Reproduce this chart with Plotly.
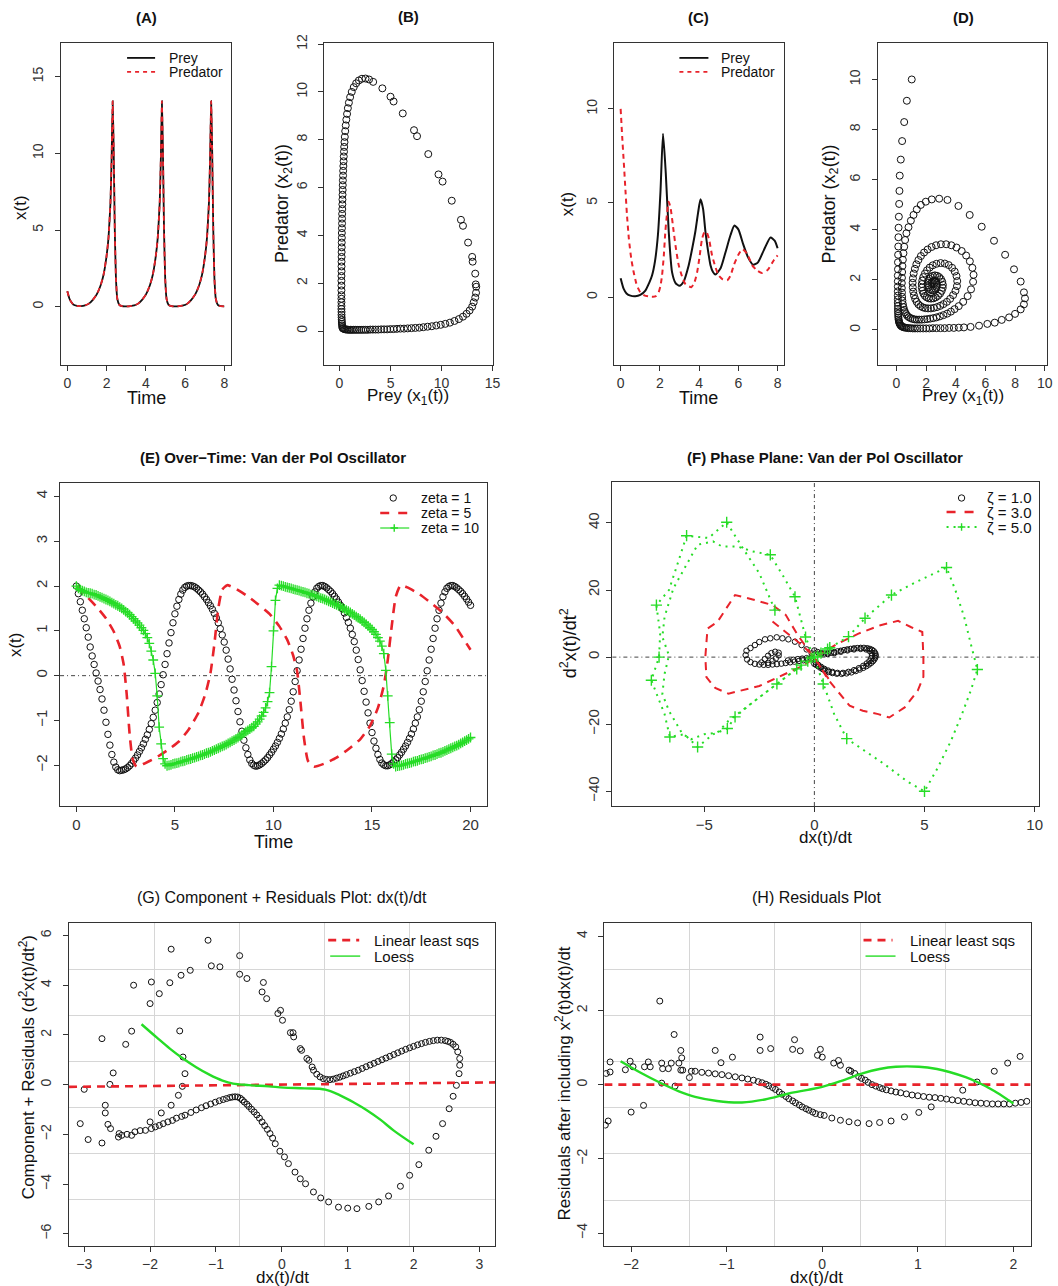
import plotly.graph_objects as go

W, H = 1058, 1286
FONT = "Liberation Sans, Arial, Helvetica, sans-serif"
BLACK = "#111111"
RED = "#e8232b"
GREEN = "#26dc26"
AXC = "#333333"

# ---------------- (A) Lotka-Volterra, over time ----------------
A_TIME = [0, 0.1, 0.2, 0.3, 0.5,
          0.7, 0.9, 1.1, 1.3, 1.5, 1.7, 1.85, 2.0, 2.1, 2.2, 2.26, 2.31, 2.36, 2.42, 2.48, 2.55, 2.65, 2.8, 3.0,
          3.21, 3.41, 3.61, 3.81, 4.01, 4.21, 4.36, 4.51, 4.61, 4.71, 4.77, 4.82, 4.87, 4.93, 4.99, 5.06, 5.16, 5.31, 5.51,
          5.72, 5.92, 6.12, 6.32, 6.52, 6.72, 6.87, 7.02, 7.12, 7.22, 7.28, 7.33, 7.38, 7.44, 7.50, 7.57, 7.67, 7.82, 8.0]
A_PREY = [1.0, 0.55, 0.3, 0.15, 0.06,
          0.04, 0.08, 0.2, 0.45, 0.8, 1.4, 2.1, 3.3, 4.5, 6.8, 9.8, 13.4, 10.5, 5.0, 1.8, 0.5, 0.12, 0.03, 0.02,
          0.04, 0.08, 0.2, 0.45, 0.8, 1.4, 2.1, 3.3, 4.5, 6.8, 9.8, 13.4, 10.5, 5.0, 1.8, 0.5, 0.12, 0.03, 0.02,
          0.04, 0.08, 0.2, 0.45, 0.8, 1.4, 2.1, 3.3, 4.5, 6.8, 9.8, 13.4, 10.5, 5.0, 1.8, 0.5, 0.12, 0.03, 0.02]
A_PREDATOR = [1.0, 0.55, 0.3, 0.15, 0.06,
              0.04, 0.08, 0.2, 0.45, 0.8, 1.4, 2.1, 3.3, 4.5, 6.8, 9.8, 13.4, 10.5, 5.0, 1.8, 0.5, 0.12, 0.03, 0.02,
              0.04, 0.08, 0.2, 0.45, 0.8, 1.4, 2.1, 3.3, 4.5, 6.8, 9.8, 13.4, 10.5, 5.0, 1.8, 0.5, 0.12, 0.03, 0.02,
              0.04, 0.08, 0.2, 0.45, 0.8, 1.4, 2.1, 3.3, 4.5, 6.8, 9.8, 13.4, 10.5, 5.0, 1.8, 0.5, 0.12, 0.03, 0.02]

# ---------------- (B) phase plane (prey, predator) ----------------
B_BOTTOM = [(0.30, 0.12), (0.38, 0.10), (0.47, 0.08), (0.57, 0.07), (0.68, 0.06), (0.80, 0.06), (0.93, 0.05),
            (1.07, 0.05), (1.22, 0.05), (1.38, 0.05), (1.55, 0.05), (1.73, 0.05), (1.92, 0.05), (2.12, 0.05),
            (2.33, 0.05), (2.55, 0.05), (2.78, 0.05), (3.02, 0.06), (3.27, 0.06), (3.53, 0.06), (3.80, 0.06),
            (4.08, 0.07), (4.37, 0.07), (4.67, 0.07), (4.98, 0.08), (5.30, 0.08), (5.63, 0.09), (5.97, 0.10),
            (6.32, 0.10), (6.68, 0.11), (7.05, 0.12), (7.43, 0.13), (7.82, 0.14), (8.22, 0.16), (8.63, 0.18),
            (9.05, 0.20), (9.48, 0.23), (9.92, 0.26), (10.37, 0.30), (10.82, 0.35), (11.27, 0.42), (11.7, 0.50),
            (12.1, 0.60), (12.45, 0.72), (12.75, 0.86), (13.0, 1.02), (13.15, 1.2)]
B_RIGHT = [(13.3, 1.4), (13.38, 1.6), (13.4, 1.85), (13.35, 1.95), (13.3, 2.4), (13.05, 2.9), (13.0, 3.1),
           (12.6, 3.7), (12.1, 4.4), (11.9, 4.65), (11.0, 5.45), (10.1, 6.25), (9.7, 6.55), (8.7, 7.4),
           (7.6, 8.15), (7.3, 8.4), (6.2, 9.1), (5.3, 9.6), (5.0, 9.8), (4.2, 10.15), (3.3, 10.42)]
B_TOP = [(2.9, 10.52), (2.55, 10.56), (2.2, 10.55), (1.9, 10.48), (1.63, 10.36), (1.4, 10.2), (1.2, 10.0),
         (1.04, 9.78), (0.92, 9.55), (0.82, 9.32), (0.74, 9.08), (0.67, 8.84), (0.61, 8.6), (0.56, 8.36), (0.52, 8.12)]
B_LEFT = [(0.49, 7.9), (0.46, 7.7), (0.44, 7.5), (0.42, 7.3), (0.40, 7.1), (0.38, 6.9), (0.36, 6.7), (0.35, 6.5),
          (0.33, 6.3), (0.32, 6.1), (0.31, 5.9), (0.30, 5.7), (0.29, 5.5), (0.28, 5.3), (0.27, 5.1), (0.26, 4.9),
          (0.25, 4.7), (0.25, 4.5), (0.24, 4.3), (0.23, 4.1), (0.23, 3.9), (0.22, 3.7), (0.22, 3.5), (0.21, 3.3),
          (0.21, 3.1), (0.20, 2.9), (0.20, 2.7), (0.20, 2.5), (0.19, 2.3), (0.19, 2.1), (0.19, 1.9), (0.19, 1.7),
          (0.19, 1.5), (0.19, 1.35), (0.19, 1.2), (0.19, 1.05), (0.19, 0.92), (0.20, 0.8), (0.20, 0.68),
          (0.21, 0.57), (0.22, 0.47), (0.23, 0.38), (0.24, 0.3), (0.26, 0.23), (0.28, 0.17)]

# ---------------- (C) damped Lotka-Volterra, over time ----------------
C_TIME_PREY = [0, 0.15, 0.3, 0.5, 0.75, 1.0, 1.26, 1.45, 1.6, 1.75, 1.9, 2.03, 2.16, 2.3, 2.45, 2.62, 2.8, 3.0,
               3.2, 3.47, 3.65, 3.81, 3.95, 4.07, 4.2, 4.32, 4.45, 4.58, 4.7, 4.83, 5.1, 5.35, 5.6, 5.8, 6.0,
               6.25, 6.5, 6.76, 7.0, 7.3, 7.64, 7.85, 8.0]
C_PREY = [1.0, 0.45, 0.2, 0.08, 0.05, 0.12, 0.35, 0.75, 1.15, 1.9, 3.3, 5.6, 8.68, 6.6, 3.5, 1.33, 0.75, 0.6,
          0.8, 1.7, 2.6, 3.5, 4.5, 5.2, 4.7, 3.5, 2.5, 1.7, 1.35, 1.2, 1.55, 2.4, 3.3, 3.8, 3.6,
          2.8, 2.1, 1.72, 1.85, 2.5, 3.17, 3.0, 2.6]
C_TIME_PRED = [0, 0.08, 0.17, 0.25, 0.32, 0.42, 0.54, 0.66, 0.78, 0.9, 1.0, 1.2, 1.43, 1.77, 1.94, 2.03, 2.11,
               2.2, 2.28, 2.37, 2.45, 2.55, 2.7, 2.83, 2.96, 3.13, 3.3, 3.6, 3.75, 3.9, 4.03, 4.15, 4.27, 4.37,
               4.5, 4.66, 4.83, 5.0, 5.2, 5.43, 5.6, 5.77, 6.0, 6.2, 6.45, 6.7, 6.95, 7.2, 7.5, 7.8, 8.0]
C_PREDATOR = [10.0, 8.5, 7.0, 5.6, 4.4, 3.1, 2.05, 1.35, 0.8, 0.45, 0.27, 0.1, 0.04, 0.04, 0.27, 0.6, 1.15,
              2.2, 3.5, 4.5, 5.07, 4.7, 3.5, 2.5, 1.7, 1.1, 0.7, 0.53, 0.75, 1.33, 2.2, 3.1, 3.45, 3.47,
              3.1, 2.22, 1.6, 1.15, 0.95, 0.9, 1.15, 1.7, 2.25, 2.55, 2.3, 1.7, 1.42, 1.28, 1.45, 1.95, 2.22]

# ---------------- (D) damped phase plane ----------------
D_PATH = [(1.03, 10.0), (0.7, 9.15), (0.52, 8.3), (0.38, 7.54), (0.29, 6.8), (0.22, 6.16), (0.2, 5.55),
          (0.18, 5.03), (0.16, 4.52), (0.14, 4.08), (0.13, 3.7), (0.12, 3.33), (0.11, 3.0), (0.1, 2.7),
          (0.1, 2.42), (0.09, 2.17), (0.09, 1.94), (0.09, 1.73), (0.09, 1.54), (0.09, 1.37), (0.09, 1.22),
          (0.09, 1.08), (0.1, 0.95), (0.1, 0.84), (0.1, 0.74), (0.11, 0.65), (0.12, 0.56), (0.13, 0.49),
          (0.14, 0.42), (0.16, 0.36), (0.18, 0.31), (0.2, 0.27), (0.23, 0.23), (0.27, 0.19), (0.31, 0.16),
          (0.36, 0.14), (0.42, 0.12), (0.5, 0.1), (0.6, 0.09), (0.7, 0.08), (0.82, 0.07), (0.95, 0.07),
          (1.1, 0.06), (1.25, 0.06), (1.42, 0.06), (1.6, 0.06), (1.8, 0.06), (2.0, 0.06), (2.22, 0.06),
          (2.45, 0.07), (2.7, 0.07), (2.97, 0.07), (3.25, 0.07), (3.55, 0.08), (3.87, 0.08), (4.2, 0.09),
          (4.55, 0.1), (5.0, 0.12), (5.57, 0.17), (6.13, 0.24), (6.63, 0.29), (7.1, 0.4), (7.6, 0.5),
          (8.0, 0.64), (8.38, 0.82), (8.6, 1.02), (8.67, 1.26), (8.6, 1.5), (8.38, 1.93), (7.93, 2.42),
          (7.33, 3.0), (6.58, 3.56), (5.75, 4.12), (4.94, 4.59), (4.18, 4.95), (3.44, 5.19), (2.88, 5.24),
          (2.38, 5.21), (1.98, 5.12), (1.64, 4.99), (1.37, 4.81), (1.15, 4.59), (0.97, 4.36), (0.81, 4.1),
          (0.67, 3.86), (0.58, 3.59), (0.52, 3.32), (0.47, 3.06), (0.43, 2.8), (0.4, 2.55), (0.38, 2.31),
          (0.37, 2.08), (0.36, 1.87), (0.36, 1.67), (0.37, 1.49), (0.38, 1.32), (0.4, 1.17), (0.43, 1.03),
          (0.47, 0.91), (0.52, 0.8), (0.58, 0.71), (0.65, 0.63), (0.73, 0.56), (0.83, 0.51), (0.95, 0.47),
          (1.08, 0.44), (1.22, 0.42), (1.37, 0.41), (1.53, 0.41), (1.7, 0.41), (1.88, 0.42), (2.07, 0.43),
          (2.27, 0.45), (2.48, 0.47), (2.7, 0.5), (2.93, 0.54), (3.17, 0.59), (3.42, 0.65), (3.67, 0.73),
          (3.92, 0.83), (4.2, 0.95), (4.5, 1.12), (4.8, 1.35), (5.03, 1.62), (5.17, 1.92), (5.2, 2.2),
          (5.12, 2.48), (4.95, 2.74), (4.7, 2.97), (4.4, 3.15), (4.05, 3.29), (3.7, 3.38), (3.35, 3.42),
          (3.0, 3.42), (2.67, 3.38), (2.37, 3.31), (2.1, 3.21), (1.86, 3.09), (1.65, 2.95), (1.48, 2.79),
          (1.34, 2.62), (1.24, 2.44), (1.16, 2.25), (1.11, 2.06), (1.09, 1.88), (1.1, 1.7), (1.13, 1.53),
          (1.18, 1.38), (1.26, 1.24), (1.36, 1.12), (1.48, 1.02), (1.62, 0.95), (1.78, 0.9), (1.95, 0.87),
          (2.13, 0.86), (2.32, 0.86), (2.52, 0.88), (2.73, 0.91), (2.95, 0.96), (3.17, 1.03), (3.4, 1.12),
          (3.62, 1.24), (3.82, 1.39), (3.98, 1.56), (4.08, 1.75), (4.1, 1.95), (4.05, 2.15), (3.93, 2.33),
          (3.75, 2.48), (3.52, 2.59), (3.26, 2.65), (2.98, 2.67), (2.7, 2.64), (2.45, 2.58), (2.24, 2.49),
          (2.06, 2.38), (1.92, 2.25), (1.81, 2.11), (1.74, 1.97), (1.71, 1.83), (1.71, 1.69), (1.75, 1.56),
          (1.82, 1.45), (1.92, 1.36), (2.04, 1.3), (2.18, 1.26), (2.33, 1.25), (2.49, 1.26), (2.65, 1.3),
          (2.8, 1.36), (2.94, 1.45), (3.05, 1.56), (3.12, 1.68), (3.13, 1.8), (3.09, 1.92), (3.0, 2.03),
          (2.88, 2.11), (2.74, 2.16), (2.59, 2.18), (2.45, 2.16), (2.32, 2.11), (2.22, 2.04), (2.15, 1.96),
          (2.12, 1.87), (2.13, 1.78), (2.17, 1.7), (2.24, 1.63), (2.33, 1.59), (2.43, 1.58), (2.53, 1.6),
          (2.62, 1.65), (2.69, 1.72), (2.72, 1.8), (2.71, 1.87), (2.66, 1.93), (2.59, 1.96), (2.51, 1.96),
          (2.43, 1.93), (2.37, 1.88)]

# ---------------- (E) Van der Pol over time, sampled every 0.1 from t = 0 ----------------
E_T0, E_DT = 0.0, 0.1
E_ZETA1 = [2.00, 1.83, 1.65, 1.46, 1.27, 1.07, 0.86, 0.64, 0.44, 0.25,
           0.06, -0.12, -0.31, -0.52, -0.77, -1.04, -1.31, -1.55, -1.76, -1.93,
           -2.04, -2.10, -2.12, -2.11,
           -2.10, -2.08, -2.05, -2.01, -1.96, -1.90,
           -1.84, -1.77, -1.69, -1.61, -1.52, -1.42, -1.32, -1.20, -1.07, -0.93,
           -0.77, -0.60, -0.41, -0.20, 0.02, 0.25, 0.49, 0.73, 0.96, 1.18,
           1.38, 1.55, 1.70, 1.82, 1.91, 1.97, 2.00, 2.01,
           2.01, 2.00,
           1.98, 1.95, 1.91, 1.87, 1.82, 1.76, 1.70, 1.63, 1.56, 1.48,
           1.39, 1.29, 1.18, 1.05, 0.91, 0.75, 0.57, 0.37, 0.15, -0.08,
           -0.32, -0.56, -0.80, -1.03, -1.24, -1.44, -1.61, -1.76, -1.88, -1.96,
           -2.00, -2.02,
           -2.01, -1.99, -1.96, -1.92, -1.88, -1.83, -1.77, -1.71,
           -1.64, -1.57, -1.49, -1.40, -1.30, -1.19, -1.06, -0.92, -0.76, -0.57,
           -0.36, -0.13, 0.11, 0.35, 0.59, 0.83, 1.06, 1.27, 1.46, 1.62,
           1.76, 1.87, 1.95, 1.99, 2.01,
           2.01, 1.99, 1.96, 1.92, 1.88,
           1.83, 1.77, 1.71, 1.64, 1.57, 1.49, 1.40, 1.30, 1.19, 1.06,
           0.92, 0.76, 0.57, 0.36, 0.13, -0.11, -0.35, -0.59, -0.83, -1.06,
           -1.27, -1.46, -1.62, -1.76, -1.87, -1.95, -1.99, -2.01,
           -2.01, -1.99,
           -1.96, -1.92, -1.88, -1.83, -1.77, -1.71, -1.64, -1.57, -1.49, -1.40,
           -1.30, -1.19, -1.06, -0.92, -0.76, -0.57, -0.36, -0.13, 0.11, 0.35,
           0.59, 0.83, 1.06, 1.27, 1.46, 1.62, 1.76, 1.87, 1.95, 1.99,
           2.01,
           2.01, 1.99, 1.96, 1.92, 1.88, 1.83, 1.77, 1.71, 1.64, 1.57]
E_ZETA10 = [2.00, 1.95, 1.92, 1.90, 1.88, 1.86, 1.85, 1.84, 1.83, 1.81,
            1.80, 1.78, 1.76, 1.74, 1.72, 1.70, 1.68, 1.66, 1.63, 1.61,
            1.58, 1.56, 1.53, 1.50, 1.47, 1.43, 1.40, 1.36, 1.32, 1.27,
            1.22, 1.18, 1.13, 1.07, 1.01, 0.94, 0.85, 0.72, 0.55, 0.35,
            0.05, -0.45, -1.15, -1.52, -1.85, -1.97, -2.01, -2.00, -1.99, -1.97,
            -1.96, -1.95, -1.94, -1.92, -1.91, -1.90, -1.88, -1.87, -1.86, -1.84,
            -1.83, -1.81, -1.80, -1.78, -1.77, -1.75, -1.73, -1.72, -1.70, -1.68,
            -1.66, -1.64, -1.62, -1.60, -1.58, -1.56, -1.54, -1.51, -1.49, -1.46,
            -1.44, -1.41, -1.38, -1.35, -1.32, -1.28, -1.25, -1.22, -1.19, -1.16,
            -1.13, -1.08, -1.03, -0.97, -0.90, -0.82, -0.72, -0.58, -0.38, 0.20,
            1.00, 1.68, 1.95, 2.02, 2.01, 2.00, 1.98, 1.97, 1.96, 1.95,
            1.93, 1.92, 1.91, 1.90, 1.88, 1.87, 1.86, 1.84, 1.83, 1.81,
            1.80, 1.78, 1.77, 1.75, 1.73, 1.72, 1.70, 1.68, 1.66, 1.64,
            1.62, 1.60, 1.58, 1.56, 1.54, 1.51, 1.49, 1.46, 1.44, 1.41,
            1.38, 1.35, 1.32, 1.29, 1.26, 1.22, 1.19, 1.15, 1.11, 1.07,
            1.03, 0.98, 0.92, 0.85, 0.77, 0.66, 0.49, 0.12, -0.45, -1.05,
            -1.75, -1.97, -2.03, -2.02, -2.01, -2.00, -1.99, -1.97, -1.96, -1.95,
            -1.94, -1.92, -1.91, -1.90, -1.88, -1.87, -1.86, -1.84, -1.83, -1.81,
            -1.80, -1.78, -1.77, -1.75, -1.73, -1.72, -1.70, -1.68, -1.66, -1.64,
            -1.62, -1.60, -1.58, -1.56, -1.54, -1.51, -1.49, -1.46, -1.44, -1.41,
            -1.38]
E_ZETA5_T = [0, 0.5, 1.0, 1.5, 1.9, 2.2, 2.4, 2.55, 2.7, 2.85, 3.05, 3.4, 4.0, 4.6, 5.2, 5.7, 6.2, 6.55, 6.8, 7.0,
             7.2, 7.4, 7.65, 8.0, 8.6, 9.2, 9.8, 10.3, 10.7, 11.0, 11.2, 11.35, 11.55, 11.75, 12.05, 12.6, 13.2,
             13.8, 14.4, 14.9, 15.3, 15.6, 15.8, 16.0, 16.2, 16.45, 16.8, 17.4, 18.0, 18.6, 19.2, 19.6, 20.0]
E_ZETA5 = [2.0, 1.78, 1.55, 1.28, 0.98, 0.65, 0.25, -0.4, -1.3, -1.85, -2.03, -1.97, -1.84, -1.67, -1.47, -1.2,
           -0.82, -0.4, 0.05, 0.7, 1.5, 1.92, 2.02, 1.96, 1.8, 1.6, 1.38, 1.1, 0.8, 0.45, 0.1, -0.5, -1.4, -1.9,
           -2.03, -1.96, -1.83, -1.64, -1.42, -1.12, -0.72, -0.22, 0.35, 1.1, 1.75, 2.02, 1.97, 1.82, 1.62, 1.4,
           1.12, 0.85, 0.58]

# ---------------- (F) Van der Pol phase plane (dx/dt, d2x/dt2) ----------------
F_ZETA1 = [(-0.12, 1.1), (-0.35, 2.3), (-0.58, 3.6), (-0.88, 4.6), (-1.18, 5.3), (-1.45, 5.6), (-1.71, 5.9),
           (-2.0, 5.6), (-2.24, 5.3), (-2.5, 4.5), (-2.7, 3.6), (-2.9, 2.7), (-3.08, 1.9), (-3.12, 0.6),
           (-3.05, -0.7), (-2.9, -1.5), (-2.7, -2.0), (-2.5, -2.2), (-2.3, -2.3), (-2.1, -2.3), (-1.9, -2.2),
           (-1.7, -2.1), (-1.5, -1.95), (-1.3, -1.75), (-1.1, -1.55), (-0.9, -1.35), (-0.7, -1.15), (-0.5, -0.95),
           (-0.3, -0.7), (-0.15, -0.4),
           (-2.4, -1.6), (-2.25, -0.6), (-2.1, 0.4), (-1.95, 1.2), (-1.78, 1.6), (-1.62, 1.3), (-1.62, 0.5),
           (-1.75, -0.4), (-1.9, -1.1), (-2.1, -1.7),
           (-1.2, -1.0), (-0.95, -0.8), (-0.75, -0.6), (-0.55, -0.45), (-0.35, -0.3),
           (0.0, 2.0), (0.15, 1.5), (0.3, 1.2), (0.45, 1.1), (0.6, 1.15), (0.75, 1.3), (0.9, 1.5), (1.05, 1.7),
           (1.2, 1.9), (1.35, 2.1), (1.5, 2.3), (1.65, 2.45), (1.8, 2.6), (1.95, 2.7), (2.1, 2.75), (2.25, 2.75),
           (2.4, 2.65), (2.52, 2.45), (2.62, 2.15), (2.7, 1.75), (2.75, 1.3), (2.78, 0.8), (2.78, 0.3),
           (2.76, -0.2), (2.72, -0.7), (2.66, -1.2), (2.58, -1.7), (2.48, -2.2), (2.36, -2.7), (2.22, -3.2),
           (2.06, -3.7), (1.88, -4.15), (1.68, -4.55), (1.46, -4.85), (1.24, -5.0), (1.02, -4.95), (0.82, -4.75),
           (0.65, -4.45), (0.5, -4.05), (0.38, -3.6), (0.27, -3.15), (0.17, -2.7), (0.08, -2.3), (0.0, -2.0),
           (0.3, 0.9), (0.6, 0.9), (0.9, 1.2), (1.2, 1.6), (1.5, 2.0), (1.8, 2.3), (2.1, 2.45), (2.35, 2.3),
           (2.5, 1.9), (2.6, 1.2), (2.62, 0.4), (2.58, -0.4), (2.5, -1.2), (2.38, -1.9), (2.22, -2.6),
           (2.02, -3.3), (1.8, -3.9), (1.55, -4.4), (1.3, -4.7), (1.05, -4.7), (0.82, -4.4), (0.62, -4.0),
           (0.45, -3.5), (0.3, -2.9), (0.17, -2.3), (0.07, -1.6)]
F_ZETA3 = [(-1.9, 10.6), (-1.2, 7.0), (-0.6, 3.8), (-0.15, 1.0), (0.2, -2.0), (0.6, -6.5), (1.1, -10.5),
           (1.6, -14.5), (2.2, -16.0), (2.9, -17.0), (3.4, -18.0), (4.1, -15.0), (4.7, -9.9), (4.95, -5.9),
           (4.95, 0.1), (4.9, 7.5), (4.4, 8.9), (3.8, 10.8), (3.0, 9.5), (2.0, 7.0), (1.0, 3.8), (0.2, 0.6),
           (-0.5, -2.5), (-1.5, -5.5), (-2.5, -8.6), (-3.9, -10.9), (-4.5, -9.2), (-4.9, -6.0), (-4.95, 0.0),
           (-4.85, 8.5), (-4.4, 10.5), (-3.6, 18.5), (-2.8, 17.2), (-1.9, 15.5), (-1.3, 12.6), (-0.75, 6.5),
           (-0.25, 2.0), (0.2, -2.2), (0.7, -7.0)]
F_ZETA5_PATH = [(-1.79, 14.0), (-2.5, 25.0), (-3.3, 33.0), (-3.98, 40.2), (-4.8, 35.5), (-5.8, 36.2),
                (-6.2, 28.0), (-6.6, 20.0), (-7.17, 15.5), (-7.0, 7.0), (-7.05, 0.0), (-7.4, -6.9), (-7.1, -12.0),
                (-6.8, -17.0), (-6.56, -23.8), (-5.9, -23.0), (-5.3, -26.8), (-4.6, -23.0), (-3.95, -21.3),
                (-3.6, -17.8), (-2.7, -13.0), (-1.7, -8.0), (-0.8, -3.5), (0.0, 0.0), (0.7, 2.8), (1.55, 6.1),
                (2.3, 11.6), (3.5, 18.5), (4.5, 22.0), (6.0, 26.7), (6.4, 20.0), (6.8, 12.0), (7.1, 4.0),
                (7.4, -3.7), (7.1, -10.0), (6.7, -17.0), (6.2, -25.0), (5.6, -33.0), (5.0, -40.0), (4.2, -37.0),
                (3.2, -32.0), (2.3, -28.0), (1.47, -24.3), (0.9, -17.0), (0.4, -8.0), (0.0, -0.5), (-0.4, 6.0),
                (-0.88, 18.0), (-1.4, 24.0), (-2.0, 30.5), (-2.8, 31.5), (-3.5, 33.0), (-4.2, 33.0), (-4.6, 34.5),
                (-5.3, 33.5), (-5.6, 30.0), (-6.0, 25.5), (-6.4, 20.5), (-6.8, 12.0), (-6.9, 6.0), (-6.6, 0.5),
                (-6.8, -5.0), (-6.9, -11.0), (-6.6, -16.0), (-6.0, -22.8), (-5.6, -24.5), (-5.0, -23.0),
                (-4.4, -22.5), (-3.9, -19.0), (-3.0, -14.5), (-2.0, -9.5), (-1.0, -4.5), (0.0, 0.0)]
F_ZETA5_SAMPLES = [(-3.98, 40.2), (-5.8, 36.2), (-2.0, 30.5), (-0.88, 18.0), (-1.79, 14.0), (-7.17, 15.5),
                   (-7.05, 0.0), (-7.4, -6.9), (-6.56, -23.8), (-5.3, -26.8), (-3.95, -21.3), (-3.6, -17.8),
                   (-1.7, -8.0), (-0.8, -3.5), (0.0, 0.0), (0.7, 2.8), (1.55, 6.1), (2.3, 11.6), (3.5, 18.5),
                   (6.0, 26.7), (7.4, -3.7), (5.0, -40.0), (1.47, -24.3), (0.4, -8.0), (-0.4, 6.0),
                   (-0.3, -1.2), (0.3, 1.2), (-0.6, -2.4), (0.6, 2.4), (0.15, 0.3), (-0.15, -0.3)]

# ---------------- (G) component + residuals ----------------
G_POINTS = [(-3.06, -1.57), (-3.0, -0.19), (-2.94, -2.21), (-2.73, 1.85), (-2.73, -2.35), (-2.68, -0.83),
            (-2.68, -1.14), (-2.64, -1.6), (-2.61, 0.01), (-2.6, -1.77), (-2.56, 0.47), (-2.48, -2.11),
            (-2.47, -1.97), (-2.43, -2.04), (-2.37, 1.62), (-2.28, -2.04), (-2.28, 2.15), (-2.25, 4.0),
            (-2.23, -1.9), (-2.07, -1.84), (-2.0, 3.26), (-2.0, -1.5), (-1.98, 4.13), (-1.98, -1.77),
            (-1.86, 3.66), (-1.86, -1.64), (-1.83, -1.14), (-1.8, -1.57), (-1.7, 4.1), (-1.68, 5.45),
            (-1.68, -0.83), (-1.66, -1.44), (-1.57, -0.43), (-1.55, 2.16), (-1.53, 4.4), (-1.51, -0.07),
            (-1.5, 1.11), (-1.47, 0.44), (-1.47, -1.23), (-1.39, 4.6), (-1.12, 5.81), (-1.07, 4.78),
            (-0.94, 4.74), (-0.64, 5.19), (-0.64, 4.44), (-0.53, 4.27), (-0.3, 3.73), (-0.28, 4.11),
            (-0.23, 3.46), (-0.06, 2.86), (-0.02, 2.99), (0.01, 2.59), (0.13, 2.09), (0.17, 2.09), (0.18, 1.92),
            (0.28, 1.45), (0.3, 1.38), (0.38, 1.05), (0.41, 0.98), (0.46, 0.71), (0.48, 0.58), (0.53, 0.42),
            (0.58, 0.31), (0.63, 0.24),
            (-2.35, -2.0), (-2.15, -1.85), (-1.92, -1.7), (-1.73, -1.5), (-1.6, -1.35), (-1.52, -1.28),
            (-1.38, -1.12), (-1.3, -1.02), (-1.22, -0.93), (-1.15, -0.85), (-1.08, -0.78), (-1.01, -0.71),
            (-0.95, -0.65), (-0.89, -0.6), (-0.84, -0.56), (-0.79, -0.52), (-0.75, -0.5), (-0.71, -0.49),
            (-0.67, -0.5), (-0.63, -0.55), (-0.6, -0.62), (-0.57, -0.7), (-0.53, -0.79), (-0.5, -0.88),
            (-0.46, -0.99), (-0.42, -1.1), (-0.38, -1.22), (-0.34, -1.35), (-0.3, -1.5), (-0.26, -1.65),
            (-0.22, -1.8), (-0.18, -1.97), (-0.14, -2.15), (-0.1, -2.38), (-0.03, -2.68), (0.04, -2.91),
            (0.1, -3.18), (0.2, -3.52), (0.28, -3.79), (0.36, -3.99), (0.48, -4.32), (0.59, -4.56),
            (0.71, -4.72), (0.86, -4.93), (1.0, -4.97), (1.14, -4.99), (1.32, -4.9), (1.47, -4.72),
            (1.62, -4.48), (1.8, -4.09), (1.94, -3.65), (2.08, -3.22), (2.23, -2.64), (2.34, -2.08),
            (2.44, -1.57), (2.54, -0.97), (2.6, -0.47), (2.65, -0.03), (2.69, 0.44), (2.7, 0.78), (2.7, 1.05),
            (2.67, 1.32), (2.64, 1.52), (2.6, 1.62), (2.56, 1.7),
            (0.68, 0.21), (0.73, 0.2), (0.78, 0.22), (0.83, 0.26), (0.88, 0.3), (0.93, 0.35), (0.98, 0.4),
            (1.04, 0.46), (1.1, 0.52), (1.16, 0.58), (1.22, 0.65), (1.28, 0.72), (1.34, 0.79), (1.4, 0.86),
            (1.46, 0.93), (1.52, 1.0), (1.58, 1.07), (1.64, 1.14), (1.7, 1.21), (1.76, 1.28), (1.82, 1.35),
            (1.88, 1.42), (1.94, 1.48), (2.0, 1.54), (2.06, 1.6), (2.12, 1.65), (2.18, 1.7), (2.24, 1.74),
            (2.3, 1.77), (2.36, 1.79), (2.42, 1.79), (2.48, 1.77), (2.52, 1.74)]
G_LLS_X = [-3.23, 3.24]
G_LLS_Y = [-0.09, 0.09]
G_LOESS = [(-2.13, 2.43), (-1.9, 1.9), (-1.7, 1.45), (-1.5, 1.05), (-1.3, 0.7), (-1.1, 0.4), (-0.9, 0.16),
           (-0.74, 0.04), (-0.5, -0.02), (-0.2, -0.07), (0.03, -0.12), (0.35, -0.15), (0.66, -0.2), (0.9, -0.45),
           (1.1, -0.73), (1.29, -1.03), (1.5, -1.42), (1.7, -1.85), (2.0, -2.4)]

# ---------------- (H) residuals ----------------
H_POINTS = [(-2.27, -1.09), (-2.24, -0.98), (-2.26, 0.3), (-2.22, 0.61), (-2.22, 0.34), (-2.06, 0.4),
            (-2.01, 0.63), (-2.0, -0.74), (-1.98, 0.48), (-1.87, -0.56), (-1.86, 0.48), (-1.82, 0.61),
            (-1.8, 0.48), (-1.7, 2.25), (-1.68, 0.58), (-1.68, 0.04), (-1.67, 0.43), (-1.61, 0.43),
            (-1.58, 0.58), (-1.55, 1.35), (-1.54, -0.04), (-1.5, 0.58), (-1.48, 0.92), (-1.48, 0.39),
            (-1.47, 0.72), (-1.46, 0.39), (-1.39, 0.19), (-1.37, 0.36), (-1.33, 0.36),
            (-1.26, 0.33), (-1.19, 0.31), (-1.12, 0.29), (-1.05, 0.27), (-0.98, 0.24), (-0.91, 0.21),
            (-0.84, 0.18), (-0.78, 0.15), (-0.72, 0.12), (-0.67, 0.08), (-0.63, 0.05), (-0.59, 0.01),
            (-0.56, -0.03), (-0.52, -0.08), (-0.49, -0.13), (-0.45, -0.2), (-0.42, -0.26), (-0.38, -0.32),
            (-0.35, -0.38), (-0.31, -0.44), (-0.28, -0.49), (-0.24, -0.55), (-0.21, -0.6), (-0.17, -0.65),
            (-0.14, -0.69), (-0.1, -0.74), (-0.07, -0.78), (-0.02, -0.81), (0.02, -0.83), (0.1, -0.9),
            (0.19, -0.96), (0.28, -1.0), (0.37, -1.03), (0.49, -1.05), (0.6, -1.02), (0.72, -0.98),
            (0.86, -0.87), (1.01, -0.75), (1.14, -0.6), (1.47, -0.15), (1.62, 0.07), (1.8, 0.36), (1.94, 0.58),
            (2.07, 0.76),
            (-1.12, 0.92), (-1.06, 0.59), (-0.94, 0.74), (-0.65, 1.28), (-0.65, 0.92), (-0.54, 0.97),
            (-0.31, 0.95), (-0.29, 1.21), (-0.23, 0.91), (-0.05, 0.79), (-0.02, 0.95), (0.0, 0.74), (0.12, 0.58),
            (0.17, 0.65), (0.19, 0.52), (0.28, 0.39), (0.3, 0.36),
            (0.34, 0.3), (0.38, 0.22), (0.41, 0.17), (0.45, 0.12), (0.48, 0.06), (0.52, 0.0), (0.56, -0.04),
            (0.6, -0.08), (0.63, -0.11), (0.67, -0.14), (0.72, -0.17), (0.77, -0.2), (0.82, -0.22), (0.88, -0.25),
            (0.94, -0.28), (1.0, -0.3), (1.06, -0.32), (1.12, -0.34), (1.18, -0.35), (1.24, -0.37), (1.3, -0.39),
            (1.36, -0.41), (1.42, -0.43), (1.48, -0.45), (1.54, -0.47), (1.6, -0.49), (1.66, -0.5), (1.72, -0.51),
            (1.78, -0.52), (1.84, -0.52), (1.9, -0.52), (1.96, -0.52), (2.02, -0.5), (2.08, -0.48), (2.14, -0.45)]
H_LLS_X = [-2.28, 2.18]
H_LLS_Y = [0.0, 0.0]
H_LOESS = [(-2.11, 0.63), (-1.9, 0.32), (-1.68, 0.03), (-1.5, -0.18), (-1.33, -0.33), (-1.1, -0.44),
           (-0.84, -0.48), (-0.6, -0.4), (-0.35, -0.24), (-0.15, -0.14), (0.0, -0.06), (0.2, 0.1), (0.42, 0.3),
           (0.6, 0.42), (0.77, 0.48), (1.01, 0.48), (1.2, 0.42), (1.33, 0.34), (1.5, 0.2), (1.62, 0.07),
           (1.8, -0.17), (1.95, -0.42), (2.0, -0.51)]


def unzip(pairs):
    return [p[0] for p in pairs], [p[1] for p in pairs]


def sid(n):
    return "" if n == 1 else str(n)


fig = go.Figure()


def add(trace, n):
    trace.update(xaxis="x" + sid(n), yaxis="y" + sid(n), showlegend=False, hoverinfo="skip")
    fig.add_trace(trace)


def CIRC(s):
    return dict(symbol="circle-open", size=s, color=BLACK, line=dict(width=1, color=BLACK))


# A
add(go.Scatter(x=A_TIME, y=A_PREY, mode="lines", name="Prey",
               line=dict(color=BLACK, width=1.8, shape="spline", smoothing=0.4)), 1)
add(go.Scatter(x=A_TIME, y=A_PREDATOR, mode="lines", name="Predator",
               line=dict(color=RED, width=1.8, dash="5px,4px", shape="spline", smoothing=0.4)), 1)
# B
bx, by = unzip(B_BOTTOM + B_RIGHT + B_TOP + B_LEFT)
add(go.Scatter(x=bx, y=by, mode="markers", marker=CIRC(7)), 2)
# C
add(go.Scatter(x=C_TIME_PREY, y=C_PREY, mode="lines", name="Prey",
               line=dict(color=BLACK, width=2, shape="spline", smoothing=0.6)), 3)
add(go.Scatter(x=C_TIME_PRED, y=C_PREDATOR, mode="lines", name="Predator",
               line=dict(color=RED, width=2, dash="5px,4px", shape="spline", smoothing=0.6)), 3)
# D
dx_, dy_ = unzip(D_PATH)
add(go.Scatter(x=dx_, y=dy_, mode="markers", marker=CIRC(7)), 4)
# E
add(go.Scatter(y=E_ZETA1, x0=E_T0, dx=E_DT, mode="markers", name="zeta = 1", marker=CIRC(6.5)), 5)
add(go.Scatter(x=E_ZETA5_T, y=E_ZETA5, mode="lines", name="zeta = 5",
               line=dict(color=RED, width=2.6, dash="10px,7px", shape="spline", smoothing=0.5)), 5)
add(go.Scatter(y=E_ZETA10, x0=E_T0, dx=E_DT, mode="lines+markers", name="zeta = 10",
               line=dict(color=GREEN, width=1.2),
               marker=dict(symbol="cross-thin", size=7, color=GREEN, line=dict(width=1.3, color=GREEN))), 5)
# F
fx, fy = unzip(F_ZETA1)
add(go.Scatter(x=fx, y=fy, mode="markers", name="\u03b6 = 1.0", marker=CIRC(5.5)), 6)
fx, fy = unzip(F_ZETA3)
add(go.Scatter(x=fx, y=fy, mode="lines", name="\u03b6 = 3.0", line=dict(color=RED, width=2, dash="8px,6px")), 6)
fx, fy = unzip(F_ZETA5_PATH)
add(go.Scatter(x=fx, y=fy, mode="lines", name="\u03b6 = 5.0", line=dict(color=GREEN, width=2, dash="2px,5px")), 6)
fx, fy = unzip(F_ZETA5_SAMPLES)
add(go.Scatter(x=fx, y=fy, mode="markers", name="\u03b6 = 5.0",
               marker=dict(symbol="cross-thin", size=8, color=GREEN, line=dict(width=1.4, color=GREEN))), 6)
# G
gx, gy = unzip(G_POINTS)
add(go.Scatter(x=gx, y=gy, mode="markers", marker=CIRC(6)), 7)
add(go.Scatter(x=G_LLS_X, y=G_LLS_Y, mode="lines", name="Linear least sqs",
               line=dict(color=RED, width=2.6, dash="8px,6px")), 7)
lx, ly = unzip(G_LOESS)
add(go.Scatter(x=lx, y=ly, mode="lines", name="Loess", line=dict(color=GREEN, width=2.4, shape="spline")), 7)
# H
hx, hy = unzip(H_POINTS)
add(go.Scatter(x=hx, y=hy, mode="markers", marker=CIRC(6)), 8)
add(go.Scatter(x=H_LLS_X, y=H_LLS_Y, mode="lines", name="Linear least sqs",
               line=dict(color=RED, width=2.6, dash="8px,6px")), 8)
lx, ly = unzip(H_LOESS)
add(go.Scatter(x=lx, y=ly, mode="lines", name="Loess", line=dict(color=GREEN, width=2.4, shape="spline")), 8)

# ---------------- layout ----------------
# The photographed page comes out slightly scaled and shifted; page-pixel targets are mapped through this.
SCALE, OFF_X, OFF_Y = 0.9928, 0.0, 9.1


def fx_(x):
    return (x - OFF_X) / SCALE


def fy_(y):
    return (y - OFF_Y) / SCALE


def px2paper(x, y):
    return fx_(x) / W, 1 - fy_(y) / H


PANELS = {
    1: dict(px=(61, 231), py=(43, 365), xr=(-0.32, 8.35), yr=(-3.8, 17.2), xt=[0, 2, 4, 6, 8], yt=[0, 5, 10, 15], fs=14, ys=6),
    2: dict(px=(324, 493), py=(43, 365), xr=(-1.5, 15.07), yr=(-1.42, 12.05), xt=[0, 5, 10, 15], yt=[0, 2, 4, 6, 8, 10, 12], fs=14, ys=6),
    3: dict(px=(614, 784), py=(43, 365), xr=(-0.32, 8.35), yr=(-3.6, 13.5), xt=[0, 2, 4, 6, 8], yt=[0, 5, 10], fs=14, ys=6),
    4: dict(px=(877, 1046), py=(43, 365), xr=(-1.28, 10.13), yr=(-1.4, 11.46), xt=[0, 2, 4, 6, 8, 10], yt=[0, 2, 4, 6, 8, 10], fs=14, ys=6),
    5: dict(px=(60, 487), py=(483, 806), xr=(-0.83, 20.85), yr=(-2.91, 4.3), xt=[0, 5, 10, 15, 20], yt=[-2, -1, 0, 1, 2, 3, 4], fs=15, ys=1),
    6: dict(px=(612, 1038), py=(482, 806), xr=(-9.17, 10.18), yr=(-44.4, 52.2), xt=[-5, 0, 5, 10], yt=[-40, -20, 0, 20, 40], fs=15, ys=1),
    7: dict(px=(69, 495), py=(923, 1246), xr=(-3.23, 3.24), yr=(-6.5, 6.5), xt=[-3, -2, -1, 0, 1, 2, 3], yt=[-6, -4, -2, 0, 2, 4, 6], fs=14, ys=6),
    8: dict(px=(604, 1030), py=(923, 1246), xr=(-2.28, 2.18), yr=(-4.35, 4.35), xt=[-2, -1, 0, 1, 2], yt=[-4, -2, 0, 2, 4], fs=14, ys=6),
}
GRIDS = {
    7: dict(x=[-1.94, -0.65, 0.65, 1.94], y=[-4.64, -2.79, -0.93, 0.93, 2.79, 4.64]),
    8: dict(x=[-1.39, -0.5, 0.4, 1.29], y=[-3.11, -1.86, -0.62, 0.62, 1.86, 3.11]),
}

layout = dict(width=W, height=H, margin=dict(l=0, r=0, t=0, b=0), paper_bgcolor="white",
              plot_bgcolor="white", font=dict(family=FONT, color="#222"), showlegend=False)

for n, p in PANELS.items():
    common = dict(showline=True, mirror=True, linecolor=AXC, linewidth=1, ticks="outside", ticklen=5,
                  tickcolor=AXC, tickwidth=1, showgrid=False, zeroline=False,
                  tickfont=dict(family=FONT, size=p["fs"], color="#333"), tickmode="array")
    xl, yt_ = px2paper(p["px"][0], p["py"][0])
    xr_, yb_ = px2paper(p["px"][1], p["py"][1])
    xa = dict(common, domain=[xl, xr_], range=list(p["xr"]), tickvals=p["xt"], anchor="y" + sid(n))
    ya = dict(common, domain=[yb_, yt_], range=list(p["yr"]), tickvals=p["yt"],
              anchor="x" + sid(n), tickangle=-90, ticklabelstandoff=p["ys"])
    if n in GRIDS:
        xa["minor"] = dict(tickmode="array", tickvals=GRIDS[n]["x"], showgrid=True, gridcolor="#d6d6d6",
                           gridwidth=1, ticks="")
        ya["minor"] = dict(tickmode="array", tickvals=GRIDS[n]["y"], showgrid=True, gridcolor="#d6d6d6",
                           gridwidth=1, ticks="")
    layout["xaxis" + sid(n)] = xa
    layout["yaxis" + sid(n)] = ya


ANN = [
    ("<b>(A)</b>", 146, 18, 15, 0), ("<b>(B)</b>", 408, 17, 15, 0), ("<b>(C)</b>", 698, 18, 15, 0),
    ("<b>(D)</b>", 963, 18, 15, 0),
    ("Time", 146, 398, 18, 0), ("x(t)", 21, 208, 17, -90),
    ("Prey (x<sub>1</sub>(t))", 408, 397, 17, 0), ("Predator (x<sub>2</sub>(t))", 284, 204, 18, -90),
    ("Time", 698, 398, 18, 0), ("x(t)", 568, 204, 17, -90),
    ("Prey (x<sub>1</sub>(t))", 962, 397, 17, 0), ("Predator (x<sub>2</sub>(t))", 830, 204, 18, -90),
    ("<b>(E) Over\u2212Time: Van der Pol Oscillator</b>", 273, 458, 15, 0),
    ("Time", 273, 842, 18, 0), ("x(t)", 15, 645, 17, -90),
    ("<b>(F) Phase Plane: Van der Pol Oscillator</b>", 825, 458, 15, 0),
    ("dx(t)/dt", 825, 837, 17, 0), ("d<sup>2</sup>x(t)/dt<sup>2</sup>", 568, 643, 18, -90),
    ("(G) Component + Residuals Plot: dx(t)/dt", 282, 897, 16, 0),
    ("dx(t)/dt", 282, 1277, 17, 0),
    ("Component + Residuals (d<sup>2</sup>x(t)/dt<sup>2</sup>)", 27, 1067, 17, -90),
    ("(H) Residuals Plot", 816, 897, 16, 0),
    ("dx(t)/dt", 816, 1277, 17, 0),
    ("Residuals after including x<sup>2</sup>(t)dx(t)/dt", 563, 1083, 17, -90),
]
annotations = []
for text, x, y, size, ang in ANN:
    ax_, ay_ = px2paper(x, y)
    annotations.append(dict(text=text, x=ax_, y=ay_, xref="paper", yref="paper", xanchor="center",
                            yanchor="middle", showarrow=False, textangle=ang,
                            font=dict(family=FONT, size=size, color="#111")))

# ---- legends (key glyphs + labels), placed in page pixels ----
shapes = []


def key_line(x0, x1, y, color, width, dash="solid"):
    a0, b = px2paper(x0, y)
    a1, _ = px2paper(x1, y)
    shapes.append(dict(type="line", xref="paper", yref="paper", x0=a0, x1=a1, y0=b, y1=b,
                       line=dict(color=color, width=width, dash=dash)))


def key_circle(x, y, r=3.2):
    a, b = px2paper(x, y)
    shapes.append(dict(type="circle", xref="paper", yref="paper", xsizemode="pixel", ysizemode="pixel",
                       xanchor=a, yanchor=b, x0=-r, x1=r, y0=-r, y1=r, line=dict(color=BLACK, width=1)))


def key_plus(x, y, r=3.8):
    a, b = px2paper(x, y)
    shapes.append(dict(type="path", xref="paper", yref="paper", xsizemode="pixel", ysizemode="pixel",
                       xanchor=a, yanchor=b, path=f"M{-r},0 L{r},0 M0,{-r} L0,{r}",
                       line=dict(color=GREEN, width=1.4)))


def key_text(x, y, text, size):
    a, b = px2paper(x, y)
    annotations.append(dict(text=text, x=a, y=b, xref="paper", yref="paper", xanchor="left", yanchor="middle",
                            showarrow=False, font=dict(family=FONT, size=size, color="#111")))


# A
key_line(127, 155, 58, BLACK, 1.8); key_text(167, 58, "Prey", 14)
key_line(127, 155, 72, RED, 1.8, "4px,4px"); key_text(167, 72, "Predator", 14)
# C
key_line(679, 708, 58, BLACK, 1.8); key_text(719, 58, "Prey", 14)
key_line(679, 708, 72, RED, 1.8, "4px,4px"); key_text(719, 72, "Predator", 14)
# E
key_circle(393, 498); key_text(419, 498, "zeta = 1", 14)
key_line(380, 409, 513, RED, 2.6, "9px,9px"); key_text(419, 513, "zeta = 5", 14)
key_line(380, 409, 528, GREEN, 1.2); key_plus(394, 528); key_text(419, 528, "zeta = 10", 14)
# F
key_circle(961, 498); key_text(984, 498, "\u03b6 = 1.0", 15)
key_line(946, 976, 512, RED, 2.4, "9px,9px"); key_text(984, 512, "\u03b6 = 3.0", 15)
key_line(946, 976, 527, GREEN, 2, "2px,5px"); key_plus(961, 527); key_text(984, 527, "\u03b6 = 5.0", 15)
# G
key_line(328, 359, 940, RED, 2.6, "8px,6px"); key_text(372, 940, "Linear least sqs", 15)
key_line(330, 360, 956, GREEN, 1.4); key_text(372, 956, "Loess", 15)
# H
key_line(863, 892, 940, RED, 2.6, "8px,6px"); key_text(907, 940, "Linear least sqs", 15)
key_line(865, 895, 956, GREEN, 1.4); key_text(907, 956, "Loess", 15)

DASHDOT = dict(color="#444", width=1, dash="4px,3px,1px,3px")
shapes += [
    dict(type="line", xref="x5 domain", yref="y5", x0=0, x1=1, y0=0, y1=0, line=DASHDOT, layer="below"),
    dict(type="line", xref="x6 domain", yref="y6", x0=0, x1=1, y0=0, y1=0, line=DASHDOT, layer="below"),
    dict(type="line", xref="x6", yref="y6 domain", x0=0, x1=0, y0=0, y1=1, line=DASHDOT, layer="below"),
]
layout["annotations"] = annotations
layout["shapes"] = shapes

fig.update_layout(**layout)

PAGE_JS = ("document.documentElement.style.margin='0px';document.documentElement.style.padding='0px';"
           "document.documentElement.style.overflow='hidden';"
           "document.body.style.margin='0px';document.body.style.padding='0px';document.body.style.overflow='hidden';"
           "var gd=document.getElementById('{plot_id}');gd.style.position='absolute';"
           "gd.style.left='0px';gd.style.top='0px';")
fig.write_html("out.html", config={"displayModeBar": False}, post_script=PAGE_JS)
